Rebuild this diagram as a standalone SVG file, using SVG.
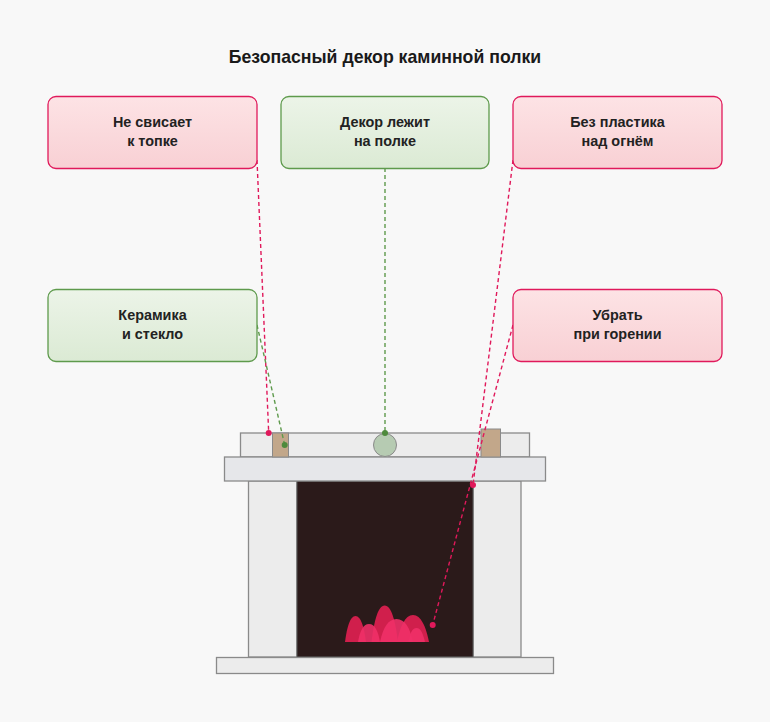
<svg xmlns="http://www.w3.org/2000/svg" width="770" height="722" viewBox="0 0 770 722">
<defs>
<linearGradient id="gPink" x1="0" y1="0" x2="0" y2="1"><stop offset="0" stop-color="#fde3e5"/><stop offset="1" stop-color="#f8d0d4"/></linearGradient>
<linearGradient id="gGreen" x1="0" y1="0" x2="0" y2="1"><stop offset="0" stop-color="#ecf4e8"/><stop offset="1" stop-color="#dbead4"/></linearGradient>
<style>
.pink{fill:url(#gPink);stroke:#e0195b;stroke-width:1.3}
.green{fill:url(#gGreen);stroke:#5e9a4c;stroke-width:1.3}
.lbl{font-family:"Liberation Sans",Arial,sans-serif;font-weight:bold;font-size:14.4px;fill:#222;text-anchor:middle}
.title{font-family:"Liberation Sans",Arial,sans-serif;font-weight:bold;font-size:17.7px;fill:#1a1a1a;text-anchor:middle}
.stone{fill:#ececec;stroke:#8a8a8a;stroke-width:1.3}
.cr{fill:none;stroke:#e0195b;stroke-width:1.4;stroke-dasharray:4 3}
.cg{fill:none;stroke:#5e9a4c;stroke-width:1.4;stroke-dasharray:4 3}
.dr{fill:#e0195b}
.dg{fill:#4e8a3c}
.fd{fill:#d01f4c}
.fl{fill:#f03068;opacity:0.9}
</style>
</defs>
<rect width="770" height="722" fill="#f8f8f8"/>
<text class="title" x="385" y="63">Безопасный декор каминной полки</text>

<g id="fireplace">
<rect class="stone" x="240.5" y="433" width="289" height="24" fill="#ededed"/>
<rect class="stone" x="248.5" y="481" width="48.5" height="176"/>
<rect class="stone" x="473" y="481" width="48" height="176"/>
<rect x="297" y="481" width="176" height="176" fill="#2b1a1a" stroke="#555" stroke-width="1"/>
<rect class="stone" x="224.5" y="457" width="321" height="24" style="fill:#e6e7ea"/>
<rect class="stone" x="216.5" y="657.5" width="337" height="16"/>
</g>

<g id="decor">
<rect x="272.5" y="433" width="16" height="24" fill="#c2a78a" stroke="#8a8a8a" stroke-width="1"/>
<rect x="481" y="429" width="19.5" height="28" fill="#c2a78a" stroke="#8a8a8a" stroke-width="1"/>
<circle cx="385" cy="445" r="11.5" fill="#b6cbb2" stroke="#8a8a8a" stroke-width="1"/>
</g>

<g id="flames">
<path class="fd" d="M345 642 C347 627 350 616 355.5 616 C361 616 364 627 366 642 Z"/>
<path class="fd" d="M371.5 642 C374 621 378 605.5 384.7 605.5 C391.4 605.5 395.4 621 398 642 Z"/>
<path class="fd" d="M397 642 C400 627 405 615 413 615 C421 615 426 627 429 642 Z"/>
<path class="fl" d="M358 642 C360 631 363 624 369 624 C375 624 378 631 380 642 Z"/>
<path class="fl" d="M380 642 C383 628 388 619 396.5 619 C405 619 410 628 413 642 Z"/>
<path class="fl" d="M408 642 C410 634 412 628 416.5 628 C421 628 423 634 425 642 Z"/>
</g>

<g id="connectors">
<line class="cr" x1="257" y1="160" x2="268.7" y2="433"/>
<line class="cg" x1="257" y1="325" x2="284.7" y2="445"/>
<line class="cg" x1="385" y1="168" x2="385" y2="433"/>
<line class="cr" x1="513" y1="160" x2="473" y2="485"/>
<line class="cr" x1="513" y1="325" x2="432.7" y2="625"/>
<circle class="dr" cx="268.7" cy="433" r="3"/>
<circle class="dg" cx="284.7" cy="445" r="3"/>
<circle class="dg" cx="385" cy="433" r="3"/>
<circle class="dr" cx="473" cy="485" r="3"/>
<circle class="dr" cx="432.7" cy="625" r="3"/>
</g>

<g id="n1"><rect class="pink" x="48" y="96.5" width="209" height="72" rx="8"/><text class="lbl" x="152.5" y="127">Не свисает</text><text class="lbl" x="152.5" y="146">к топке</text></g>
<g id="n2"><rect class="green" x="281" y="96.5" width="208" height="72" rx="8"/><text class="lbl" x="385" y="127">Декор лежит</text><text class="lbl" x="385" y="146">на полке</text></g>
<g id="n3"><rect class="pink" x="513" y="96.5" width="209" height="72" rx="8"/><text class="lbl" x="617.5" y="127">Без пластика</text><text class="lbl" x="617.5" y="146">над огнём</text></g>
<g id="n4"><rect class="green" x="48" y="289.5" width="209" height="72" rx="8"/><text class="lbl" x="152.5" y="320">Керамика</text><text class="lbl" x="152.5" y="339">и стекло</text></g>
<g id="n5"><rect class="pink" x="513" y="289.5" width="209" height="72" rx="8"/><text class="lbl" x="617.5" y="320">Убрать</text><text class="lbl" x="617.5" y="339">при горении</text></g>
</svg>
